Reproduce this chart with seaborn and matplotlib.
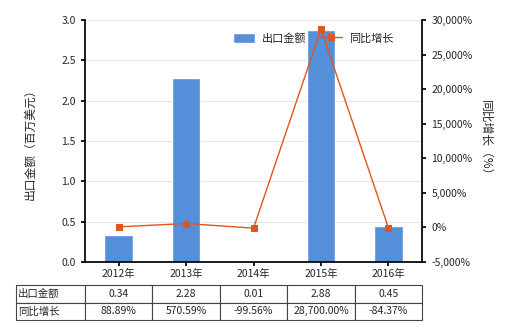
import matplotlib
matplotlib.use("Agg")
import matplotlib.pyplot as plt
import seaborn as sns
import pandas as pd
import numpy as np
from matplotlib.ticker import FuncFormatter

years = ["2012年", "2013年", "2014年", "2015年", "2016年"]
export_vals = [0.34, 2.28, 0.01, 2.88, 0.45]
growth_vals = [88.89, 570.59, -99.56, 28700.00, -84.37]
export_labels = ["0.34", "2.28", "0.01", "2.88", "0.45"]
growth_labels = ["88.89%", "570.59%", "-99.56%", "28,700.00%", "-84.37%"]

sns.set_theme(style="white")
plt.rcParams['font.family'] = ['Noto Sans CJK SC', 'DejaVu Sans']

bar_color = "#568FD9"
line_color = "#E0561C"

fig = plt.figure(figsize=(5.2, 3.3), dpi=100)
ax = fig.add_axes([0.163, 0.206, 0.649, 0.733])

df = pd.DataFrame({"year": years, "export": export_vals, "growth": growth_vals})
sns.barplot(data=df, x="year", y="export", color=bar_color, width=0.42,
            saturation=1, ax=ax, label="出口金额", zorder=2)
ax.set_ylim(0, 3.0)
ax.set_yticks(np.arange(0, 3.01, 0.5))
ax.set_yticklabels([f"{v:.1f}" for v in np.arange(0, 3.01, 0.5)], fontsize=7.5)
ax.yaxis.grid(True, color="#E6E6E6", linewidth=0.8, zorder=0)
ax.set_axisbelow(True)
ax.set_xlabel("")
ax.set_ylabel("出口金额（百万美元）", fontsize=8.5, labelpad=18)
ax.tick_params(axis='x', labelsize=7.5, length=3, color="black", pad=2)
ax.tick_params(axis='y', length=3, color="black", left=True)
ax.tick_params(axis='x', bottom=True)
for s in ["top", "right"]:
    ax.spines[s].set_visible(False)
ax.spines["left"].set_color("black")
ax.spines["bottom"].set_color("black")
ax.set_xlim(-0.5, 4.5)

ax2 = ax.twinx()
sns.lineplot(x=np.arange(len(years)), y=growth_vals, ax=ax2, color=line_color,
             marker="s", markersize=5, markeredgecolor=line_color, linewidth=1,
             label="同比增长", legend=False)
ax2.set_ylim(-5000, 30000)
ax2.set_yticks(np.arange(-5000, 30001, 5000))
ax2.yaxis.set_major_formatter(FuncFormatter(lambda v, p: f"{int(v):,}%"))
ax2.tick_params(axis='y', labelsize=7.5, length=3, right=True, color="black")
ax2.set_ylabel("同比增长（%）", fontsize=8.5, rotation=270, labelpad=14)
for s in ["top", "left", "bottom"]:
    ax2.spines[s].set_visible(False)
ax2.spines["right"].set_color("black")
ax2.set_xlim(-0.5, 4.5)

h1, l1 = ax.get_legend_handles_labels()
h2, l2 = ax2.get_legend_handles_labels()
ax.legend(h1 + h2, l1 + l2, loc="upper left", bbox_to_anchor=(0.41, 0.99),
          ncol=2, frameon=False, fontsize=8, handlelength=2.0, columnspacing=1.2,
          handletextpad=0.6, handleheight=1.1)

cell_text = [["出口金额"] + export_labels, ["同比增长"] + growth_labels]
tbl = ax.table(cellText=cell_text, cellLoc="center",
               bbox=[-0.205, -0.24, 1.205, 0.145])
tbl.auto_set_font_size(False)
tbl.set_fontsize(7.5)
for (r, c), cell in tbl.get_celld().items():
    cell.set_edgecolor("#444444")
    cell.set_linewidth(0.8)
    if c == 0:
        cell.set_text_props(ha="left")
        cell.PAD = 0.03
widths = [69] + [67.4] * 5
tot = sum(widths)
for (r, c), cell in tbl.get_celld().items():
    cell.set_width(widths[c] / tot * 1.205)

fig.savefig("out.png", dpi=100)
